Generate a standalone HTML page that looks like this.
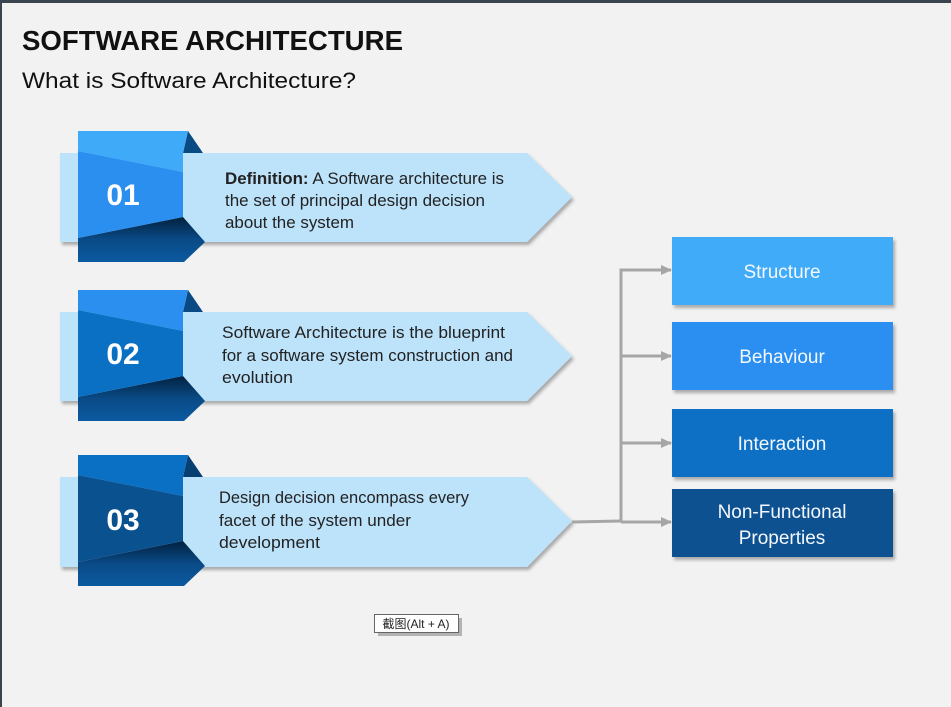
<!DOCTYPE html>
<html><head><meta charset="utf-8"><style>
html,body{margin:0;padding:0;background:#f2f2f2;}
svg{display:block;}
text{font-family:"Liberation Sans","Noto Sans CJK SC",sans-serif;}
</style></head><body>
<svg width="951" height="707" viewBox="0 0 951 707" xmlns="http://www.w3.org/2000/svg">
<defs>
<linearGradient id="bot" x1="0" y1="0" x2="0" y2="1">
<stop offset="0" stop-color="#02213f"/><stop offset="0.5" stop-color="#0a4a86"/><stop offset="1" stop-color="#0b5aa0"/>
</linearGradient>
<filter id="sh" x="-5%" y="-5%" width="115%" height="120%"><feDropShadow dx="2" dy="3" stdDeviation="1.5" flood-color="#000" flood-opacity="0.3"/></filter>
<marker id="ar" markerWidth="11" markerHeight="10" refX="10" refY="5" orient="auto" markerUnits="userSpaceOnUse"><path d="M0,0 L11,5 L0,10 z" fill="#a6a6a6"/></marker>
</defs>
<rect x="0" y="0" width="951" height="707" fill="#f2f2f2"/>
<rect x="0" y="0" width="951" height="3" fill="#3a4550"/>
<rect x="0" y="0" width="2" height="707" fill="#3a4550"/>
<text x="22" y="50" font-size="28" font-weight="bold" fill="#111" textLength="381" lengthAdjust="spacingAndGlyphs">SOFTWARE ARCHITECTURE</text>
<text x="22" y="88" font-size="22" fill="#111" textLength="334" lengthAdjust="spacingAndGlyphs">What is Software Architecture?</text>

<g>
<polygon points="60,153 527,153 572,197 527,242 60,242" fill="#bde3fb" filter="url(#sh)"/>
<polygon points="188,131 203,153 183,153" fill="#0a4a84"/>
<polygon points="78,262 184,262 205,242 183,217 78,238" fill="url(#bot)"/>
<polygon points="78,131 188,131 183,153 183,172 78,151" fill="#3fabf8"/>
<polygon points="78,151 183,172 183,217 78,238" fill="#2b8ff0"/>
<text x="123" y="205" font-size="30" font-weight="bold" fill="#fff" text-anchor="middle">01</text>
<text x="225" y="184" font-size="16.5" fill="#222" textLength="279" lengthAdjust="spacingAndGlyphs"><tspan font-weight="bold">Definition:</tspan> A Software architecture is</text>
<text x="225" y="206" font-size="16.5" fill="#222" textLength="260" lengthAdjust="spacingAndGlyphs">the set of principal design decision</text>
<text x="225" y="228" font-size="16.5" fill="#222" textLength="129" lengthAdjust="spacingAndGlyphs">about the system</text>
</g>
<g transform="translate(0,159)">
<polygon points="60,153 527,153 572,197 527,242 60,242" fill="#bde3fb" filter="url(#sh)"/>
<polygon points="188,131 203,153 183,153" fill="#0a4a84"/>
<polygon points="78,262 184,262 205,242 183,217 78,238" fill="url(#bot)"/>
<polygon points="78,131 188,131 183,153 183,172 78,151" fill="#2b8ff0"/>
<polygon points="78,151 183,172 183,217 78,238" fill="#0a70c4"/>
<text x="123" y="205" font-size="30" font-weight="bold" fill="#fff" text-anchor="middle">02</text>
<text x="222" y="179" font-size="16.5" fill="#222" textLength="283" lengthAdjust="spacingAndGlyphs">Software Architecture is the blueprint</text>
<text x="222" y="202" font-size="16.5" fill="#222" textLength="291" lengthAdjust="spacingAndGlyphs">for a software system construction and</text>
<text x="222" y="224" font-size="16.5" fill="#222" textLength="71" lengthAdjust="spacingAndGlyphs">evolution</text>
</g>
<g transform="translate(0,324)">
<polygon points="60,153 527,153 572,197 527,243 60,243" fill="#bde3fb" filter="url(#sh)"/>
<polygon points="188,131 203,153 183,153" fill="#083f72"/>
<polygon points="78,262 184,262 205,242 183,217 78,238" fill="url(#bot)"/>
<polygon points="78,131 188,131 183,153 183,172 78,151" fill="#0a70c4"/>
<polygon points="78,151 183,172 183,217 78,238" fill="#0a5190"/>
<text x="123" y="206" font-size="30" font-weight="bold" fill="#fff" text-anchor="middle">03</text>
<text x="219" y="179" font-size="16.5" fill="#222" textLength="250" lengthAdjust="spacingAndGlyphs">Design decision encompass every</text>
<text x="219" y="202" font-size="16.5" fill="#222" textLength="192" lengthAdjust="spacingAndGlyphs">facet of the system under</text>
<text x="219" y="224" font-size="16.5" fill="#222" textLength="101" lengthAdjust="spacingAndGlyphs">development</text>
</g>

<g stroke="#a6a6a6" stroke-width="3" fill="none">
<line x1="572" y1="522" x2="621" y2="521"/>
<line x1="621" y1="268.5" x2="621" y2="522"/>
<line x1="621" y1="270" x2="671" y2="270" marker-end="url(#ar)"/>
<line x1="621" y1="356" x2="671" y2="356" marker-end="url(#ar)"/>
<line x1="621" y1="443" x2="671" y2="443" marker-end="url(#ar)"/>
<line x1="621" y1="522" x2="671" y2="522" marker-end="url(#ar)"/>
</g>

<g filter="url(#sh)">
<rect x="672" y="237" width="221" height="68" fill="#3fabf8"/>
<rect x="672" y="322" width="221" height="68" fill="#2a8ff0"/>
<rect x="672" y="409" width="221" height="68" fill="#0a70c4"/>
<rect x="672" y="489" width="221" height="68" fill="#0a5190"/>
</g>
<g font-size="19" fill="#f4f8ff" text-anchor="middle">
<text x="782" y="278">Structure</text>
<text x="782" y="363">Behaviour</text>
<text x="782" y="450">Interaction</text>
<text x="782" y="518">Non-Functional</text>
<text x="782" y="544">Properties</text>
</g>

<rect x="378" y="618" width="84" height="18" fill="#888" opacity="0.6"/>
<rect x="374.5" y="614.5" width="84" height="18" fill="#fff" stroke="#666"/>
<text x="416" y="628" font-size="12" fill="#222" text-anchor="middle">截图(Alt + A)</text>
</svg>
</body></html>
